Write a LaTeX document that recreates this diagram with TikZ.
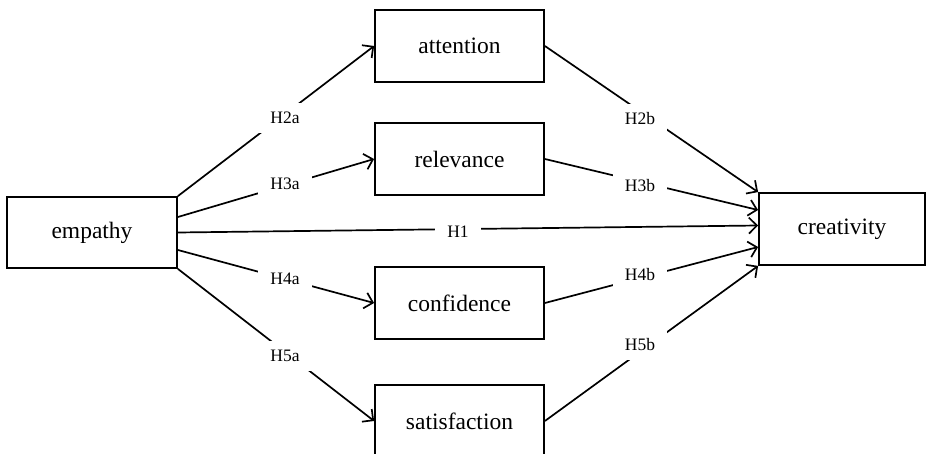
\documentclass[tikz,border=0pt]{standalone}
\usepackage{fontspec}
\setmainfont{Liberation Serif}
\usetikzlibrary{arrows.meta}
\begin{document}
\begin{tikzpicture}[x=1pt,y=-1pt,
  box/.style={draw=black,line width=1.8pt,fill=white,inner sep=0pt,
    minimum width=169pt,minimum height=72pt,font=\fontsize{23.5}{27}\selectfont},
  conn/.style={line width=1.7pt,-{Straight Barb[length=8pt,width=16pt]}},
  lbl/.style={fill=white,inner xsep=12pt,inner ysep=9pt,font=\fontsize{17.5}{20}\selectfont}]
\useasboundingbox[fill=white] (0,0) rectangle (927,454);
\node[box,minimum width=170pt,minimum height=71pt] (emp) at (92,232.5) {empathy};
\node[box] (att) at (459.5,46) {attention};
\node[box] (rel) at (459.5,159) {relevance};
\node[box] (con) at (459.5,303) {confidence};
\node[box] (sat) at (459.5,421) {satisfaction};
\node[box,minimum width=166pt] (cre) at (842,229) {creativity};
% from empathy
\draw[conn] (emp.north east) -- (att.west);
\draw[conn] ([yshift=15.5pt]emp.east) -- (rel.west);
\draw[conn] (emp.east) -- ([yshift=3.5pt]cre.west);
\draw[conn] ([yshift=-17.5pt]emp.east) -- (con.west);
\draw[conn] (emp.south east) -- (sat.west);
% to creativity
\draw[conn] (att.east) -- (cre.north west);
\draw[conn] (rel.east) -- ([yshift=19pt]cre.west);
\draw[conn] (con.east) -- ([yshift=-18pt]cre.west);
\draw[conn] (sat.east) -- (cre.south west);
% labels
\node[lbl] (h2a) at (285,118) {H2a};
\node[lbl] (h3a) at (285,184) {H3a};
\node[lbl] (h1) at (458,232) {H1};
\node[lbl] (h4a) at (285,279) {H4a};
\node[lbl] (h5a) at (285,356) {H5a};
\node[lbl] (h2b) at (640,119) {H2b};
\node[lbl] (h3b) at (640,186) {H3b};
\node[lbl] (h4b) at (640,274.5) {H4b};
\node[lbl] (h5b) at (640,345) {H5b};
\end{tikzpicture}
\end{document}
